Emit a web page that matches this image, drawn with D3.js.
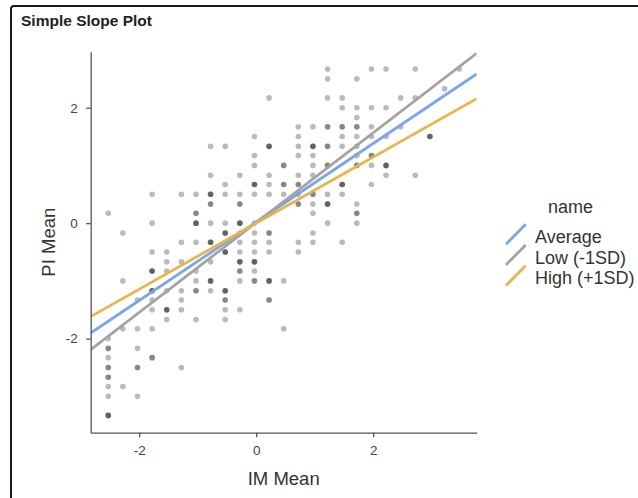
<!DOCTYPE html>
<html>
<head>
<meta charset="utf-8">
<script src="https://cdn.jsdelivr.net/npm/d3@7"></script>
<style>
  html, body { margin: 0; padding: 0; background: #fff; }
  svg { display: block; font-family: "Liberation Sans", Arial, Helvetica, sans-serif; }
</style>
</head>
<body>
<svg id="chart" width="638" height="498"></svg>
<script>
// Observed scores (one entry per distinct IM/PI pair, nObs = how many respondents share it)
const imMean = [
  -2.53, -2.53, -2.53, -2.53, -2.53, -2.53, -2.53, -2.53, -2.53,
  -2.28, -2.28, -2.28, -2.28,
  -2.03, -2.03, -2.03, -2.03, -2.03,
  -1.78, -1.78, -1.78, -1.78, -1.78, -1.78, -1.78, -1.78, -1.78,
  -1.53, -1.53, -1.53, -1.53, -1.53, -1.53,
  -1.28, -1.28, -1.28, -1.28, -1.28, -1.28, -1.28,
  -1.03, -1.03, -1.03, -1.03, -1.03, -1.03, -1.03, -1.03,
  -0.78, -0.78, -0.78, -0.78, -0.78, -0.78, -0.78, -0.78, -0.78,
  -0.53, -0.53, -0.53, -0.53, -0.53, -0.53, -0.53, -0.53, -0.53, -0.53,
  -0.28, -0.28, -0.28, -0.28, -0.28, -0.28, -0.28, -0.28, -0.28, -0.28, -0.28,
  -0.03, -0.03, -0.03, -0.03, -0.03, -0.03, -0.03, -0.03, -0.03, -0.03, -0.03, -0.03,
  0.22, 0.22, 0.22, 0.22, 0.22, 0.22, 0.22, 0.22, 0.22, 0.22,
  0.47, 0.47, 0.47, 0.47, 0.47,
  0.72, 0.72, 0.72, 0.72, 0.72, 0.72, 0.72, 0.72, 0.72, 0.72,
  0.97, 0.97, 0.97, 0.97, 0.97, 0.97, 0.97, 0.97, 0.97, 0.97,
  1.22, 1.22, 1.22, 1.22, 1.22, 1.22, 1.22, 1.22, 1.22,
  1.47, 1.47, 1.47, 1.47, 1.47, 1.47, 1.47, 1.47,
  1.72, 1.72, 1.72, 1.72, 1.72, 1.72, 1.72, 1.72, 1.72, 1.72, 1.72,
  1.97, 1.97, 1.97, 1.97, 1.97, 1.97, 1.97,
  2.22, 2.22, 2.22, 2.22, 2.22,
  2.47, 2.47,
  2.72, 2.72, 2.72,
  2.97,
  3.22,
  3.47
];
const piMean = [
  0.17, -2.00, -2.17, -2.33, -2.50, -2.67, -2.83, -3.00, -3.33,
  -0.17, -1.00, -1.83, -2.83,
  -1.33, -1.83, -2.17, -2.50, -3.00,
  0.50, 0.00, -0.50, -0.83, -1.17, -1.33, -1.50, -1.83, -2.33,
  -0.50, -0.67, -0.83, -1.17, -1.50, -1.67,
  0.50, -0.33, -0.67, -1.17, -1.33, -1.50, -2.50,
  0.50, 0.17, 0.00, -0.33, -0.83, -1.00, -1.17, -1.67,
  1.33, 0.83, 0.50, 0.33, 0.00, -0.33, -0.67, -1.00, -1.17,
  1.33, 0.67, 0.50, 0.00, -0.17, -0.50, -1.17, -1.33, -1.50, -1.67,
  0.83, 0.50, 0.33, 0.00, -0.17, -0.33, -0.50, -0.67, -0.83, -1.00, -1.50,
  1.50, 1.17, 1.00, 0.67, 0.50, 0.00, -0.17, -0.33, -0.50, -0.67, -0.83, -1.00,
  2.17, 1.33, 0.83, 0.67, 0.50, -0.17, -0.33, -0.50, -1.00, -1.33,
  1.00, 0.67, 0.50, -1.00, -1.83,
  1.67, 1.50, 1.33, 1.17, 0.83, 0.67, 0.50, 0.33, -0.33, -0.50,
  1.67, 1.33, 1.17, 1.00, 0.83, 0.50, 0.33, 0.17, -0.17, -0.33,
  2.67, 2.50, 2.17, 1.67, 1.33, 1.00, 0.50, 0.33, 0.00,
  2.17, 2.00, 1.67, 1.50, 1.33, 0.67, 0.50, -0.33,
  2.50, 2.00, 1.83, 1.67, 1.50, 1.33, 1.17, 1.00, 0.33, 0.17, 0.00,
  2.67, 2.00, 1.67, 1.50, 1.17, 1.00, 0.67,
  2.67, 2.00, 1.50, 1.00, 0.83,
  2.17, 1.67,
  2.67, 2.17, 0.83,
  1.50,
  2.33,
  2.67
];
const nObs = [
  1, 1, 2, 1, 2, 2, 1, 1, 3,
  1, 1, 1, 1,
  1, 1, 1, 2, 1,
  1, 1, 1, 3, 3, 1, 1, 1, 2,
  1, 1, 1, 1, 3, 1,
  1, 1, 1, 1, 1, 1, 1,
  1, 2, 3, 1, 1, 1, 2, 1,
  1, 1, 3, 2, 1, 3, 1, 3, 1,
  1, 1, 1, 1, 3, 3, 3, 2, 1, 1,
  1, 1, 2, 3, 1, 1, 1, 3, 2, 1, 1,
  1, 1, 1, 3, 1, 1, 1, 1, 1, 3, 1, 2,
  1, 3, 1, 1, 1, 2, 1, 1, 3, 2,
  2, 2, 1, 1, 1,
  1, 1, 1, 1, 1, 2, 1, 2, 1, 1,
  1, 3, 1, 1, 1, 2, 1, 1, 1, 1,
  1, 1, 1, 2, 2, 2, 1, 3, 1,
  1, 1, 2, 1, 1, 3, 1, 1,
  1, 1, 1, 2, 1, 1, 1, 2, 1, 2, 1,
  1, 1, 1, 1, 2, 1, 1,
  1, 1, 1, 3, 1,
  1, 1,
  1, 1, 1,
  3,
  1,
  1
];

// Simple slopes of PI on IM at three moderator levels
const slopeNames = ["Average", "Low (-1SD)", "High (+1SD)"];
const intercepts = [0.02, 0.01, 0.0];
const slopes = [0.68, 0.778, 0.572];
const slopeColors = ["#7aa6e8", "#a3a3a3", "#e9b44c"];

const xTicks = [-2, 0, 2];
const yTicks = [-2, 0, 2];

const svg = d3.select("#chart");

// card frame
svg.append("rect")
  .attr("x", 11).attr("y", 6)
  .attr("width", 660).attr("height", 520)
  .attr("rx", 3)
  .attr("fill", "none")
  .attr("stroke", "#1a1a1a")
  .attr("stroke-width", 2);

svg.append("text")
  .attr("x", 21).attr("y", 26)
  .attr("font-size", 15.5)
  .attr("font-weight", "bold")
  .attr("fill", "#222")
  .text("Simple Slope Plot");

const panel = { left: 90.7, right: 476.7, top: 51.7, bottom: 432.7 };

// ggplot-style 5% expansion around the data
const xExt = d3.extent(imMean), yExt = d3.extent(piMean);
const xPad = (xExt[1] - xExt[0]) * 0.05, yPad = (yExt[1] - yExt[0]) * 0.05;
const x = d3.scaleLinear().domain([xExt[0] - xPad, xExt[1] + xPad]).range([panel.left, panel.right]);
const y = d3.scaleLinear().domain([yExt[0] - yPad, yExt[1] + yPad]).range([panel.bottom, panel.top]);

svg.append("clipPath").attr("id", "panel-clip")
  .append("rect")
  .attr("x", panel.left).attr("y", panel.top)
  .attr("width", panel.right - panel.left).attr("height", panel.bottom - panel.top);

// points: overlapping respondents stack their transparency
const pts = [];
imMean.forEach((v, i) => { for (let c = 0; c < nObs[i]; c++) pts.push([v, piMean[i]]); });

svg.append("g")
  .selectAll("circle")
  .data(pts)
  .join("circle")
  .attr("cx", d => x(d[0]))
  .attr("cy", d => y(d[1]))
  .attr("r", 2.8)
  .attr("fill", "#000")
  .attr("fill-opacity", 0.27);

// slope lines across the whole panel
const xd = x.domain();
svg.append("g")
  .attr("clip-path", "url(#panel-clip)")
  .selectAll("line")
  .data(slopeNames.map((n, i) => ({ n, a: intercepts[i], b: slopes[i], c: slopeColors[i] })))
  .join("line")
  .attr("x1", x(xd[0])).attr("x2", x(xd[1]))
  .attr("y1", d => y(d.a + d.b * xd[0]))
  .attr("y2", d => y(d.a + d.b * xd[1]))
  .attr("stroke", d => d.c)
  .attr("stroke-width", 2.8);

// axes
const fmt = d => String(d);
const gx = svg.append("g")
  .attr("transform", `translate(0,${panel.bottom})`)
  .call(d3.axisBottom(x).tickValues(xTicks).tickFormat(fmt).tickSize(4.5).tickSizeOuter(0).tickPadding(8));
const gy = svg.append("g")
  .attr("transform", `translate(${panel.left},0)`)
  .call(d3.axisLeft(y).tickValues(yTicks).tickFormat(fmt).tickSize(4.5).tickSizeOuter(0).tickPadding(8.5));

[gx, gy].forEach(g => {
  g.select(".domain").attr("stroke", "#555").attr("stroke-width", 1.3);
  g.selectAll(".tick line").attr("stroke", "#555").attr("stroke-width", 1.3);
  g.selectAll(".tick text")
    .attr("font-size", 13.5)
    .attr("font-family", "'Liberation Sans', Arial, sans-serif")
    .attr("fill", "#444");
});

svg.append("text")
  .attr("x", (panel.left + panel.right) / 2)
  .attr("y", 485)
  .attr("text-anchor", "middle")
  .attr("font-size", 18.5)
  .attr("fill", "#333")
  .text("IM Mean");

svg.append("text")
  .attr("transform", `translate(55,${(panel.top + panel.bottom) / 2}) rotate(-90)`)
  .attr("text-anchor", "middle")
  .attr("font-size", 18.5)
  .attr("fill", "#333")
  .text("PI Mean");

// legend
const legend = svg.append("g");
legend.append("text")
  .attr("x", 548).attr("y", 213)
  .attr("font-size", 18)
  .attr("fill", "#333")
  .text("name");

const keyTop = 224.3, keyStep = 20.6;
slopeNames.forEach((n, i) => {
  const yTop = keyTop + i * keyStep;
  legend.append("line")
    .attr("x1", 506).attr("y1", yTop + 20)
    .attr("x2", 525.7).attr("y2", yTop)
    .attr("stroke", slopeColors[i])
    .attr("stroke-width", 2.8);
  legend.append("text")
    .attr("x", 535).attr("y", yTop + 18.6)
    .attr("font-size", 18)
    .attr("fill", "#333")
    .text(n);
});
</script>
</body>
</html>
